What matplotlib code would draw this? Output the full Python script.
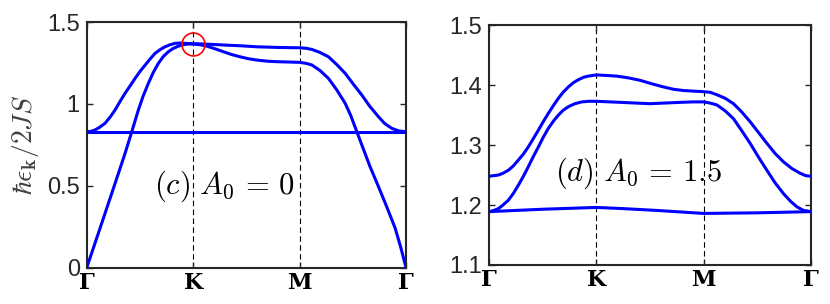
import matplotlib
matplotlib.use('Agg')
import matplotlib.pyplot as plt

plt.rcParams['mathtext.fontset'] = 'cm'
plt.rcParams['font.family'] = ['Liberation Sans', 'DejaVu Sans']

# high-symmetry path
k_ticks = [0, 1, 2, 3]
k_labels = ['Γ', 'K', 'M', 'Γ']

# panel (c): A0 = 0
c_flat_k = [0, 3]
c_flat_e = [0.830, 0.830]

c_up_k = [0, 0.04, 0.078, 0.12, 0.172, 0.22, 0.266, 0.31, 0.36, 0.41, 0.454, 0.5, 0.548,
          0.6, 0.642, 0.69, 0.736, 0.78, 0.83, 0.88, 0.924, 1.0,
          1.1, 1.2, 1.284, 1.45, 1.598, 1.8, 2.0,
          2.06, 2.115, 2.19, 2.271, 2.35, 2.428, 2.5, 2.585, 2.66, 2.741, 2.8, 2.866,
          2.93, 3.0]
c_up_e = [0.830, 0.833, 0.841, 0.857, 0.882, 0.920, 0.963, 1.012, 1.065, 1.113, 1.156, 1.198,
          1.237, 1.278, 1.309, 1.332, 1.349, 1.361, 1.370, 1.372, 1.370, 1.368,
          1.366, 1.363, 1.360, 1.355, 1.349, 1.345, 1.343,
          1.340, 1.333, 1.315, 1.288, 1.240, 1.187, 1.125, 1.054, 0.985, 0.922, 0.880,
          0.851, 0.836, 0.830]

c_ac_k = [0, 0.109, 0.235, 0.36, 0.423, 0.485, 0.53, 0.579, 0.625, 0.673, 0.72, 0.767,
          0.81, 0.861, 0.91, 0.955, 1.0,
          1.06, 1.128, 1.2, 1.284, 1.36, 1.441, 1.52, 1.598, 1.7, 1.786, 1.9, 2.0,
          2.06, 2.115, 2.19, 2.271, 2.35, 2.428, 2.48, 2.538, 2.585, 2.66, 2.741,
          2.82, 2.898, 2.95, 3.0]
c_ac_e = [0, 0.210, 0.454, 0.698, 0.830, 0.963, 1.048, 1.126, 1.192, 1.248, 1.290, 1.319,
          1.338, 1.353, 1.362, 1.366, 1.366,
          1.362, 1.353, 1.338, 1.319, 1.302, 1.288, 1.276, 1.268, 1.261, 1.258, 1.256, 1.254,
          1.248, 1.238, 1.205, 1.156, 1.085, 1.004, 0.930, 0.830, 0.749, 0.620, 0.495,
          0.370, 0.241, 0.125, 0]

# panel (d): A0 = 1.5
d_top_k = [0, 0.087, 0.13, 0.18, 0.225, 0.273, 0.32, 0.366, 0.41, 0.46, 0.505, 0.553,
           0.6, 0.646, 0.69, 0.739, 0.785, 0.832, 0.88, 0.925, 1.0,
           1.1, 1.19, 1.3, 1.407, 1.52, 1.624, 1.72, 1.81, 1.9, 2.0,
           2.06, 2.122, 2.2, 2.277, 2.35, 2.432, 2.51, 2.588, 2.665, 2.743, 2.82,
           2.898, 2.95, 3.0]
d_top_e = [1.248, 1.250, 1.253, 1.258, 1.265, 1.275, 1.285, 1.297, 1.310, 1.325, 1.339, 1.353,
           1.366, 1.378, 1.388, 1.397, 1.404, 1.409, 1.413, 1.415, 1.417,
           1.416, 1.415, 1.412, 1.408, 1.402, 1.397, 1.393, 1.391, 1.390, 1.389,
           1.388, 1.384, 1.378, 1.369, 1.356, 1.339, 1.321, 1.303, 1.286, 1.272, 1.261,
           1.253, 1.249, 1.248]

d_mid_k = [0, 0.045, 0.087, 0.13, 0.18, 0.225, 0.273, 0.32, 0.366, 0.41, 0.46, 0.505,
           0.553, 0.6, 0.646, 0.69, 0.739, 0.8, 0.864, 0.93, 1.0,
           1.252, 1.5, 1.75, 1.9, 2.0,
           2.06, 2.122, 2.2, 2.277, 2.35, 2.432, 2.51, 2.588, 2.665, 2.743, 2.81,
           2.868, 2.93, 3.0]
d_mid_e = [1.189, 1.191, 1.194, 1.200, 1.208, 1.219, 1.233, 1.248, 1.264, 1.280, 1.297, 1.313,
           1.328, 1.340, 1.350, 1.358, 1.364, 1.369, 1.372, 1.373, 1.373,
           1.371, 1.369, 1.371, 1.372, 1.372,
           1.370, 1.367, 1.357, 1.344, 1.325, 1.303, 1.280, 1.258, 1.237, 1.219, 1.206,
           1.197, 1.191, 1.189]

d_bot_k = [0, 0.5, 1.0, 1.252, 1.563, 2.0, 2.5, 3.0]
d_bot_e = [1.189, 1.193, 1.196, 1.194, 1.191, 1.186, 1.187, 1.189]

# degeneracy point marked at K in (c)
circle_k = 1.0
circle_e = 1.366

blue = '#0000ff'
dark = '#262626'
lw = 2.2

fig = plt.figure(figsize=(8.3, 3.04), dpi=100)
ax1 = fig.add_axes([0.1045, 0.1194, 0.3847, 0.808])
ax2 = fig.add_axes([0.5892, 0.1283, 0.388, 0.789])


def style_axes(ax, ylim, yticks, yticklabels):
    ax.set_xlim(0, 3)
    ax.set_ylim(*ylim)
    ax.set_xticks(k_ticks)
    ax.set_xticklabels(k_labels, fontsize=16, color='black',
                       family='DejaVu Serif', fontweight='bold')
    ax.set_yticks(yticks)
    ax.set_yticklabels(yticklabels, fontsize=17, color=dark)
    ax.tick_params(direction='in', length=4, width=1.0, color=dark,
                   top=True, right=True, pad=5)
    ax.tick_params(axis='x', pad=3)
    for sp in ax.spines.values():
        sp.set_linewidth(1.5)
        sp.set_color(dark)
    for k in k_ticks[1:3]:
        ax.axvline(k, color='black', linestyle=(0, (5, 3)), linewidth=0.8, zorder=1)


style_axes(ax1, (0, 1.5), [0, 0.5, 1, 1.5], ['0', '0.5', '1', '1.5'])
ax1.plot(c_flat_k, c_flat_e, color=blue, linewidth=lw, zorder=3)
ax1.plot(c_up_k, c_up_e, color=blue, linewidth=lw, zorder=3)
ax1.plot(c_ac_k, c_ac_e, color=blue, linewidth=lw, zorder=3)
ax1.plot([circle_k], [circle_e], 'o', markersize=16.5, markerfacecolor='none',
         markeredgecolor='red', markeredgewidth=1.2, zorder=4)
ax1.text(1.29, 0.5, r'$(c)\ A_0 \,=\, 0$', fontsize=22, ha='center', va='center')
ax1.set_ylabel(r'$\hbar\epsilon_{\mathbf{k}}/2JS$', fontsize=20, color='#404040', labelpad=4)

style_axes(ax2, (1.1, 1.5), [1.1, 1.2, 1.3, 1.4, 1.5], ['1.1', '1.2', '1.3', '1.4', '1.5'])
ax2.plot(d_top_k, d_top_e, color=blue, linewidth=lw, zorder=3)
ax2.plot(d_mid_k, d_mid_e, color=blue, linewidth=lw, zorder=3)
ax2.plot(d_bot_k, d_bot_e, color=blue, linewidth=lw, zorder=3)
ax2.text(1.389, 1.253, r'$(d)\ A_0 \,=\, 1.5$', fontsize=22, ha='center', va='center')

fig.savefig('out.png', dpi=100)
